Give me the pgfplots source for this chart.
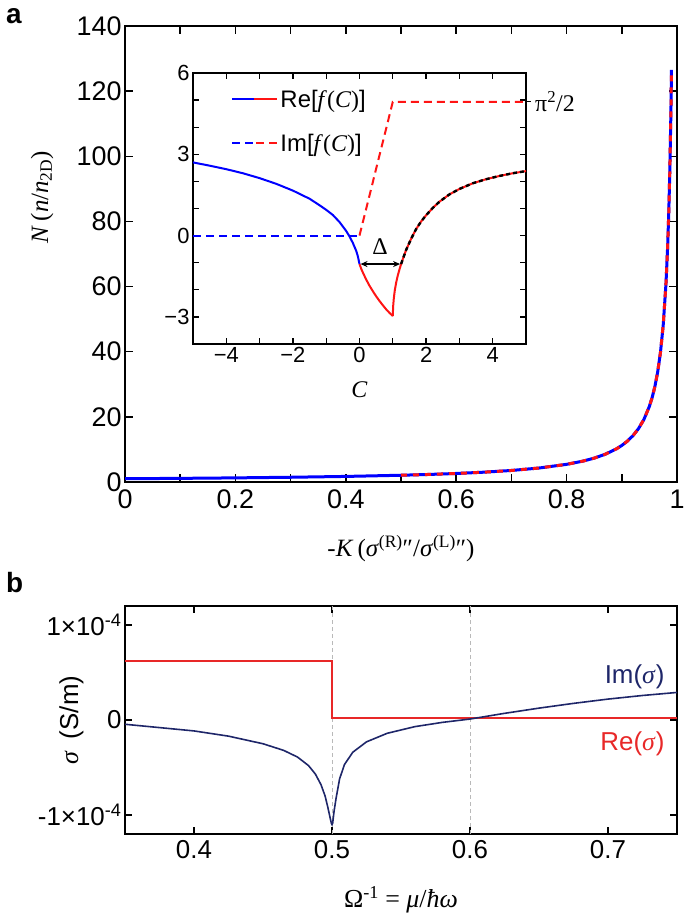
\documentclass[border=0pt]{standalone}
\usepackage{fontspec}
\setmainfont{Liberation Sans}
\newfontfamily\tms{Liberation Serif}
\usepackage{pgfplots}
\pgfplotsset{compat=1.18}
\usetikzlibrary{arrows.meta}
\definecolor{mblue}{RGB}{0,0,255}
\definecolor{mred}{RGB}{255,20,20}
\definecolor{navy}{RGB}{30,38,105}
\definecolor{bred}{RGB}{232,40,40}
\newcommand{\fsz}[1]{\fontsize{#1}{#1}\selectfont}
\begin{document}
\begin{tikzpicture}
\useasboundingbox (0,0) rectangle (685bp,913bp);
% ---------------- panel a main ----------------
\begin{axis}[
  at={(125bp,431bp)}, anchor=south west, scale only axis,
  width=552bp, height=456bp,
  xmin=0, xmax=1, ymin=0, ymax=140,
  xtick={0,0.2,0.4,0.6,0.8,1}, xticklabels={0,0.2,0.4,0.6,0.8,1},
  minor xtick={0.1,0.3,0.5,0.7,0.9},
  ytick={0,20,40,60,80,100,120,140}, yticklabels={0,20,40,60,80,100,120,140},
  tick align=inside, major tick length=8bp, minor tick length=8bp,
  every tick/.append style={black, line width=1.5bp},
  axis line style={line width=1.8bp},
  tick label style={font=\fsz{27}},
  xticklabel style={yshift=-4bp},
  xlabel={{\tms -\textit{K}\,(\textit{σ}\textsuperscript{(R)}″/\textit{σ}\textsuperscript{(L)}″)}},
  xlabel style={font=\fsz{25}, at={(axis description cs:0.5,-0.145)}, anchor=center},
  ylabel={{\tms\textit{N}\,(\textit{n}/\textit{n}\textsubscript{2D})}},
  ylabel style={font=\fsz{25}, at={(axis description cs:-0.15,0.625)}, anchor=center},
]
\addplot[color=mblue, line width=3bp] coordinates {
(0,1.000)(0.1,1.117)(0.2,1.264)(0.3,1.454)(0.4,1.710)(0.5,2.071)(0.55,2.313)
(0.6,2.617)(0.65,3.011)(0.7,3.540)(0.75,4.287)(0.8,5.419)(0.83,6.428)(0.85,7.330)
(0.87,8.519)(0.89,10.152)(0.9,11.220)(0.91,12.532)(0.92,14.182)(0.93,16.317)
(0.94,19.184)(0.95,23.232)(0.955,25.95)(0.96,29.37)(0.965,33.79)(0.97,39.72)
(0.975,48.11)(0.98,60.81)(0.983,72.11)(0.985,82.24)(0.987,95.58)(0.989,113.9)(0.99,126.5)};
\addplot[color=mred, line width=3bp, dash pattern=on 6bp off 6bp] coordinates {
(0.5,2.071)(0.55,2.313)
(0.6,2.617)(0.65,3.011)(0.7,3.540)(0.75,4.287)(0.8,5.419)(0.83,6.428)(0.85,7.330)
(0.87,8.519)(0.89,10.152)(0.9,11.220)(0.91,12.532)(0.92,14.182)(0.93,16.317)
(0.94,19.184)(0.95,23.232)(0.955,25.95)(0.96,29.37)(0.965,33.79)(0.97,39.72)
(0.975,48.11)(0.98,60.81)(0.983,72.11)(0.985,82.24)(0.987,95.58)(0.989,113.9)(0.99,126.5)};
\end{axis}
% ---------------- panel a inset ----------------
\begin{axis}[
  at={(193bp,569bp)}, anchor=south west, scale only axis,
  width=333bp, height=271bp,
  xmin=-5, xmax=5, ymin=-4, ymax=6, clip=false,
  axis background/.style={fill=white},
  xtick={-4,-2,0,2,4}, xticklabels={−4,−2,0,2,4},
  minor xtick={-3,-1,1,3},
  ytick={-3,0,3,6}, yticklabels={−3,0,3,6},
  minor ytick={-2,-1,1,2,4,5},
  tick align=inside, major tick length=6bp, minor tick length=6bp,
  every tick/.append style={black, line width=1.3bp},
  axis line style={line width=1.8bp},
  tick label style={font=\fsz{22}},
  xlabel={{\tms\textit{C}}},
  xlabel style={font=\fsz{24}, at={(axis description cs:0.5,-0.17)}, anchor=center},
  legend style={draw=none, fill=none, at={(0.115,0.945)}, anchor=north west,
    font=\fsz{24}, row sep=21bp, inner sep=0pt},
  legend cell align=left,
]
\addlegendimage{legend image code/.code={
  \draw[mblue,line width=2bp] (0bp,0bp) -- (22bp,0bp);
  \draw[mred,line width=2bp] (22bp,0bp) -- (45bp,0bp);}}
\addlegendentry{Re[{\tms\textit{f}(\textit{C})}]}
\addlegendimage{legend image code/.code={
  \draw[mblue,line width=2bp,dash pattern=on 8bp off 5bp] (0bp,0bp) -- (21bp,0bp);
  \draw[mred,line width=2bp,dash pattern=on 8bp off 5bp] (24bp,0bp) -- (45bp,0bp);}}
\addlegendentry{Im[{\tms\textit{f}(\textit{C})}]}
% Im parts
\addplot[color=mblue, line width=2bp, dash pattern=on 8bp off 5bp] coordinates {(-5,0)(0,0)};
\addplot[color=mred, line width=2bp, dash pattern=on 8bp off 5bp] coordinates {(0,0)(1,4.935)(5,4.935)};
% Re parts
\addplot[color=mblue, line width=2bp] coordinates {
(-5,2.70)(-4.5,2.58)(-4,2.45)(-3.5,2.30)(-3,2.12)(-2.5,1.91)(-2,1.66)(-1.5,1.36)
(-1.2,1.12)(-1,0.95)(-0.8,0.76)(-0.6,0.50)(-0.4,0.17)(-0.3,-0.03)(-0.2,-0.27)
(-0.1,-0.56)(-0.05,-0.76)(0,-1.05)};
\addplot[color=mred, line width=2bp] coordinates {
(0,-1.05)(0.05,-1.22)(0.1,-1.36)(0.2,-1.62)(0.3,-1.85)(0.4,-2.05)(0.5,-2.24)
(0.6,-2.41)(0.7,-2.57)(0.8,-2.72)(0.9,-2.85)(1.0,-2.97)};
\addplot[color=mred, line width=2bp] coordinates {
(1.0,-2.97)(1.01,-2.62)(1.03,-2.32)(1.06,-2.02)(1.1,-1.74)(1.15,-1.47)(1.2,-1.25)
(1.25,-1.05)(1.3,-0.87)(1.4,-0.53)(1.55,-0.12)(1.7,0.24)(1.85,0.52)(2.0,0.75)
(2.2,1.02)(2.4,1.25)(2.7,1.52)(3.0,1.72)(3.4,1.93)(3.8,2.08)(4.2,2.20)(4.6,2.30)(5.0,2.38)};
\addplot[color=black, line width=2.4bp, dash pattern=on 4bp off 3bp] coordinates {
(1.25,-1.05)(1.3,-0.87)(1.4,-0.53)(1.55,-0.12)(1.7,0.24)(1.85,0.52)(2.0,0.75)
(2.2,1.02)(2.4,1.25)(2.7,1.52)(3.0,1.72)(3.4,1.93)(3.8,2.08)(4.2,2.20)(4.6,2.30)(5.0,2.38)};
% annotations
\draw[{Stealth[length=7bp,width=6bp]}-{Stealth[length=7bp,width=6bp]}, line width=1.3bp]
  (axis cs:0.03,-1.05) -- (axis cs:1.22,-1.05);
\node[font=\fsz{24}\tms] at (axis cs:0.62,-0.42) {Δ};
\draw[line width=1.3bp] (axis cs:5,4.935) -- ([xshift=5bp]axis cs:5,4.935);
\node[font=\fsz{24}\tms, anchor=west, inner sep=0pt] at ([xshift=9bp]axis cs:5,4.935) {π\textsuperscript{2}/2};
\end{axis}
% ---------------- panel b ----------------
\begin{axis}[
  at={(125bp,79bp)}, anchor=south west, scale only axis,
  width=552bp, height=228bp,
  xmin=0.35, xmax=0.75, ymin=-1.2, ymax=1.2,
  xtick={0.4,0.5,0.6,0.7}, xticklabels={0.4,0.5,0.6,0.7},
  ytick={-1,0,1}, yticklabels={-1×10\textsuperscript{-4},0,1×10\textsuperscript{-4}},
  tick align=inside, major tick length=7bp,
  every tick/.append style={black, line width=1.5bp},
  axis line style={line width=1.8bp},
  tick label style={font=\fsz{26}},
  xticklabel style={yshift=-3bp},
  xlabel={{\tms Ω\textsuperscript{-1} = \textit{μ}/\textit{ħω}}},
  xlabel style={font=\fsz{26}, at={(axis description cs:0.5,-0.29)}, anchor=center},
  ylabel={{\tms\textit{σ}}\, (S/m)},
  ylabel style={font=\fsz{26}, at={(axis description cs:-0.097,0.5)}, anchor=center},
]
\addplot[gray!55, line width=0.8bp, dash pattern=on 4bp off 3bp] coordinates {(0.5,-1.2)(0.5,1.2)};
\addplot[gray!55, line width=0.8bp, dash pattern=on 4bp off 3bp] coordinates {(0.6,-1.2)(0.6,1.2)};
\addplot[color=bred, line width=1.2bp] coordinates {(0.35,0.62)(0.5,0.62)(0.5,0.02)(0.75,0.02)};
\addplot[color=navy, line width=1.6bp] coordinates {
(0.350,-0.045)(0.375,-0.080)(0.400,-0.115)(0.425,-0.170)(0.450,-0.250)(0.465,-0.320)
(0.475,-0.390)(0.483,-0.480)(0.488,-0.570)(0.492,-0.680)(0.495,-0.800)(0.497,-0.920)
(0.4985,-1.020)(0.4995,-1.085)(0.500,-1.100)(0.5005,-1.085)(0.5015,-0.960)(0.503,-0.820)
(0.5055,-0.620)(0.509,-0.470)(0.515,-0.340)(0.525,-0.230)(0.540,-0.140)(0.560,-0.070)
(0.580,-0.025)(0.600,0.010)(0.625,0.070)(0.650,0.125)(0.675,0.175)(0.700,0.220)
(0.725,0.258)(0.750,0.290)};
\node[font=\fsz{26}, text=navy, anchor=east, inner sep=0pt] at (axis cs:0.741,0.45) {Im({\tms\textit{σ}})};
\node[font=\fsz{26}, text=bred, anchor=east, inner sep=0pt] at (axis cs:0.741,-0.25) {Re({\tms\textit{σ}})};
\end{axis}
\node[font=\fsz{28}\bfseries, anchor=base west, inner sep=0pt] at (6bp,889bp) {a};
\node[font=\fsz{28}\bfseries, anchor=base west, inner sep=0pt] at (6bp,320bp) {b};
\end{tikzpicture}
\end{document}
